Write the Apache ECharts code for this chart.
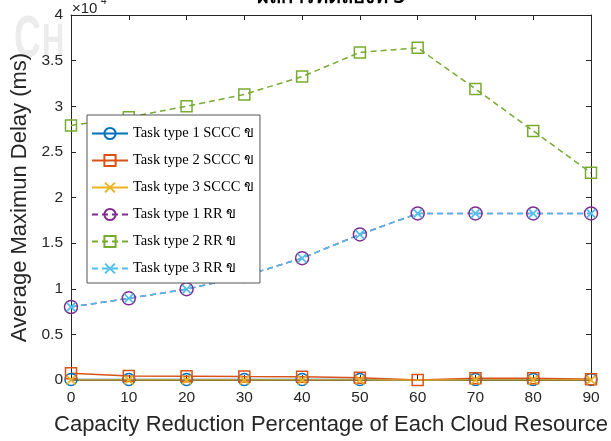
<!DOCTYPE html>
<html>
<head>
<meta charset="utf-8">
<script src="https://cdn.jsdelivr.net/npm/echarts@6/dist/echarts.min.js"></script>
<style>
  html, body { margin: 0; padding: 0; background: #fff; }
  #chart { width: 611px; height: 441px; }
</style>
</head>
<body>
<div id="chart"></div>
<script>
// Capacity reduction steps (%) on the x axis
const reductionPct = [0, 10, 20, 30, 40, 50, 60, 70, 80, 90];

// Average maximum delay (ms) for each task type and scheduler
const scccType1 = [50, 50, 50, 50, 50, 50, -80, 50, 50, 50];
const scccType2 = [730, 440, 420, 370, 360, 250, 0, 180, 180, 80];
const scccType3 = [0, 0, 0, 0, 0, 0, -30, 0, 0, 0];
const rrType1 = [8000, 8950, 9950, 11400, 13350, 15950, 18250, 18250, 18250, 18250];
const rrType2 = [27900, 28800, 30000, 31300, 33250, 35900, 36400, 31900, 27300, 22700];
const rrType3 = [8000, 8950, 9950, 11400, 13350, 15950, 18250, 18250, 18250, 18250];

const seriesNames = [
  'Task type 1 SCCC \u0E02',
  'Task type 2 SCCC \u0E02',
  'Task type 3 SCCC \u0E02',
  'Task type 1 RR \u0E02',
  'Task type 2 RR \u0E02',
  'Task type 3 RR \u0E02'
];

const yTicks = [0, 5000, 10000, 15000, 20000, 25000, 30000, 35000, 40000];
const yTickLabels = ['0', '0.5', '1', '1.5', '2', '2.5', '3', '3.5', '4'];

const axisColor = '#262626';
const crossSymbol = 'path://M0,1.2L1.2,0L5,3.8L8.8,0L10,1.2L6.2,5L10,8.8L8.8,10L5,6.2L1.2,10L0,8.8L3.8,5Z';

function pairs(values) {
  return reductionPct.map((x, i) => [x, values[i]]);
}

function makeSeries(name, values, color, symbol, size, dashed) {
  const hollow = symbol !== crossSymbol;
  return {
    name: name,
    type: 'line',
    data: pairs(values),
    symbol: symbol,
    symbolSize: size,
    showAllSymbol: true,
    animation: false,
    lineStyle: { color: color, width: 1.5, type: dashed ? [6, 4] : 'solid' },
    itemStyle: hollow
      ? { color: 'rgba(255,255,255,0)', borderColor: color, borderWidth: 1.5 }
      : { color: color, borderWidth: 0 },
    emphasis: { disabled: true }
  };
}

const chart = echarts.init(document.getElementById('chart'), null, { renderer: 'canvas' });

const tickFormatter = v => {
  const i = yTicks.indexOf(v);
  return i >= 0 ? yTickLabels[i] : '';
};

chart.setOption({
  backgroundColor: '#fff',
  animation: false,
  grid: { left: 71, right: 18, top: 15, bottom: 60, show: false },
  graphic: [
    { type: 'text', left: 14, top: 10, z: 0, scaleX: 0.62,
      style: { text: 'C', font: 'bold 60px "Liberation Sans"', fill: '#ececec' } },
    { type: 'text', left: 42, top: 21, z: 0, scaleX: 0.7,
      style: { text: 'H', font: 'bold 44px "Liberation Sans"', fill: '#ececec' } },
    { type: 'text', x: 331, y: 7, z: 10,
      style: { text: 'ผลการทดลองที่ 3', font: 'bold 20px "Noto Sans", sans-serif',
               fill: '#000', align: 'center', verticalAlign: 'bottom' } },
    { type: 'text', x: 72, y: 1, z: 10,
      style: { text: '\u00D710', font: '15px "Liberation Sans"', fill: axisColor } },
    { type: 'text', x: 101, y: -4, z: 10,
      style: { text: '4', font: '10px "Liberation Sans"', fill: axisColor } }
  ],
  legend: {
    orient: 'vertical',
    left: 87,
    top: 115,
    padding: [11, 6, 7, 4],
    itemWidth: 36,
    itemHeight: 14,
    itemGap: 12,
    backgroundColor: '#fff',
    borderColor: '#555',
    borderWidth: 1,
    borderRadius: 0,
    data: seriesNames,
    textStyle: { fontFamily: '"Liberation Serif"', fontSize: 14.5, color: '#000' },
    selectedMode: false,
    z: 20
  },
  xAxis: [
    {
      type: 'value', min: 0, max: 90, interval: 10,
      name: 'Capacity Reduction Percentage of Each Cloud Resource',
      nameLocation: 'middle', nameGap: 34,
      nameTextStyle: { fontFamily: '"Liberation Sans"', fontSize: 22, color: axisColor },
      axisLine: { show: true, onZero: false, lineStyle: { color: axisColor, width: 1 } },
      axisTick: { show: true, inside: true, length: 5, lineStyle: { color: axisColor } },
      axisLabel: { fontFamily: '"Liberation Sans"', fontSize: 15.5, color: axisColor, margin: 10 },
      splitLine: { show: false }
    },
    {
      type: 'value', min: 0, max: 90, interval: 10, position: 'top',
      axisLine: { show: true, onZero: false, lineStyle: { color: axisColor, width: 1 } },
      axisTick: { show: true, inside: true, length: 5, lineStyle: { color: axisColor } },
      axisLabel: { show: false },
      splitLine: { show: false }
    }
  ],
  yAxis: [
    {
      type: 'value', min: 0, max: 40000, interval: 5000,
      name: 'Average Maximun Delay (ms)',
      nameLocation: 'middle', nameGap: 32,
      nameTextStyle: { fontFamily: '"Liberation Sans"', fontSize: 22, color: axisColor },
      axisLine: { show: true, onZero: false, lineStyle: { color: axisColor, width: 1 } },
      axisTick: { show: true, inside: true, length: 5, lineStyle: { color: axisColor } },
      axisLabel: { fontFamily: '"Liberation Sans"', fontSize: 15.5, color: axisColor, margin: 8,
                   formatter: tickFormatter },
      splitLine: { show: false }
    },
    {
      type: 'value', min: 0, max: 40000, interval: 5000, position: 'right',
      axisLine: { show: true, onZero: false, lineStyle: { color: axisColor, width: 1 } },
      axisTick: { show: true, inside: true, length: 5, lineStyle: { color: axisColor } },
      axisLabel: { show: false },
      splitLine: { show: false }
    }
  ],
  series: [
    makeSeries(seriesNames[0], scccType1, '#0072BD', 'circle', 12, false),
    makeSeries(seriesNames[1], scccType2, '#D95319', 'rect', 11, false),
    makeSeries(seriesNames[2], scccType3, '#EDB120', crossSymbol, 10, false),
    makeSeries(seriesNames[3], rrType1, '#7E2F8E', 'circle', 13, true),
    makeSeries(seriesNames[4], rrType2, '#77AC30', 'rect', 11, true),
    makeSeries(seriesNames[5], rrType3, '#4DBEEE', crossSymbol, 10, true)
  ]
});
</script>
</body>
</html>
